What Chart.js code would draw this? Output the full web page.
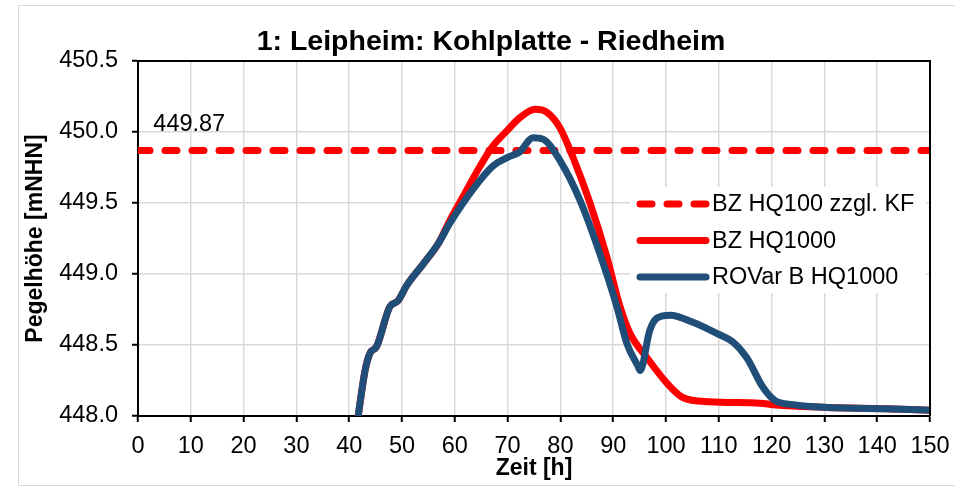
<!DOCTYPE html>
<html>
<head>
<meta charset="utf-8">
<script src="https://cdn.jsdelivr.net/npm/chart.js@4.4.1/dist/chart.umd.min.js"></script>
<style>
  html, body { margin: 0; padding: 0; background: #fff; }
  #wrap { position: relative; width: 955px; height: 488px; }
  #frame { position: absolute; left: 18px; top: 5px; width: 950px; height: 481px; border: 1px solid #d9d9d9; box-sizing: border-box; }
  canvas { position: absolute; left: 0; top: 0; }
</style>
</head>
<body>
<div id="wrap">
  <div id="frame"></div>
  <canvas id="chart" width="955" height="488"></canvas>
</div>
<script>
// BZ HQ1000 (red)
const hoursBZ = [41.7, 43.0, 43.9, 45.2, 47.7, 49.2, 50.9, 54.0, 56.8, 59.1, 61.5, 64.8, 67.2, 69.9, 72.3, 75.2, 77.4, 79.9, 82.4, 85.6, 88.8, 91.3, 93.2, 96.4, 100.2, 103.2, 108.3, 117.8, 120.3, 124.1, 130.5, 143, 150];
const levelBZ = [448.0, 448.32, 448.44, 448.49, 448.77, 448.81, 448.92, 449.07, 449.21, 449.38, 449.54, 449.76, 449.90, 450.01, 450.10, 450.16, 450.14, 450.03, 449.82, 449.50, 449.12, 448.77, 448.58, 448.41, 448.23, 448.13, 448.10, 448.09, 448.08, 448.07, 448.06, 448.05, 448.04];

// ROVar B HQ1000 (blue)
const hoursROVar = [41.7, 43.0, 43.9, 45.2, 47.7, 49.2, 50.9, 54.0, 56.8, 59.1, 63.5, 67.2, 69.9, 72.3, 74.8, 76.7, 79.9, 83.7, 87.5, 90.7, 92.6, 94.7, 95.1, 96.9, 98.3, 100.8, 105.1, 109.7, 112.7, 115.3, 118.4, 120.6, 124.1, 130.5, 143, 150];
const levelROVar = [448.0, 448.32, 448.44, 448.49, 448.77, 448.81, 448.92, 449.07, 449.21, 449.36, 449.60, 449.76, 449.82, 449.86, 449.96, 449.95, 449.80, 449.52, 449.14, 448.77, 448.51, 448.35, 448.32, 448.60, 448.69, 448.71, 448.66, 448.58, 448.52, 448.41, 448.20, 448.11, 448.08, 448.06, 448.05, 448.04];

// BZ HQ100 zzgl. KF (dashed reference)
const refHours = [0, 150];
const refLevel = 449.87;

const xTicks = [0, 10, 20, 30, 40, 50, 60, 70, 80, 90, 100, 110, 120, 130, 140, 150];
const yTicks = [448.0, 448.5, 449.0, 449.5, 450.0, 450.5];

const FONT = "'Liberation Sans', Arial, sans-serif";
const RED = '#ff0000';
const BLUE = '#1f4e79';

const toPoints = (xs, ys) => xs.map((x, i) => ({ x: x, y: ys[i] }));

const decorPlugin = {
    id: 'decor',
    afterDraw(chart) {
        const ctx = chart.ctx;
        const a = chart.chartArea;
        const xs = chart.scales.x, ys = chart.scales.y;
        ctx.save();

        // frame top/right
        ctx.strokeStyle = '#000';
        ctx.lineWidth = 2;
        ctx.beginPath();
        ctx.moveTo(a.left, a.top);
        ctx.lineTo(a.right, a.top);
        ctx.lineTo(a.right, a.bottom);
        ctx.stroke();

        // title
        ctx.fillStyle = '#000';
        ctx.font = 'bold 28.5px ' + FONT;
        ctx.textAlign = 'center';
        ctx.textBaseline = 'middle';
        ctx.fillText('1: Leipheim: Kohlplatte - Riedheim', 491, 42);

        // axis titles
        ctx.font = 'bold 23px ' + FONT;
        ctx.fillText('Zeit [h]', (a.left + a.right) / 2, 469);
        ctx.save();
        ctx.translate(36, (a.top + a.bottom) / 2);
        ctx.rotate(-Math.PI / 2);
        ctx.fillText('Pegelhöhe [mNHN]', 0, 0);
        ctx.restore();

        // reference label
        ctx.font = '23.5px ' + FONT;
        ctx.textAlign = 'left';
        ctx.fillText(refLevel.toFixed(2), xs.getPixelForValue(2.9), ys.getPixelForValue(450.05));

        // legend
        const lx = 630, ly = 187, lw = 296, lh = 106;
        ctx.fillStyle = '#fff';
        ctx.fillRect(lx, ly, lw, lh);
        const order = [2, 0, 1];
        order.forEach((di, row) => {
            const ds = chart.data.datasets[di];
            const y = 204 + row * 36.5;
            ctx.strokeStyle = ds.borderColor;
            ctx.lineWidth = ds.borderWidth;
            ctx.lineCap = 'round';
            ctx.setLineDash(ds.borderDash || []);
            ctx.beginPath();
            ctx.moveTo(640, y);
            ctx.lineTo(706, y);
            ctx.stroke();
            ctx.setLineDash([]);
            ctx.fillStyle = '#000';
            ctx.font = '23.5px ' + FONT;
            ctx.textBaseline = 'middle';
            ctx.fillText(ds.label, 712, y + 1);
        });
        ctx.restore();
    }
};

new Chart(document.getElementById('chart'), {
    type: 'line',
    data: {
        datasets: [
            {
                label: 'BZ HQ1000',
                data: toPoints(hoursBZ, levelBZ),
                borderColor: RED,
                borderWidth: 7,
                cubicInterpolationMode: 'monotone',
                pointRadius: 0,
                order: 2
            },
            {
                label: 'ROVar B HQ1000',
                data: toPoints(hoursROVar, levelROVar),
                borderColor: BLUE,
                borderWidth: 7,
                cubicInterpolationMode: 'monotone',
                pointRadius: 0,
                order: 1
            },
            {
                label: 'BZ HQ100 zzgl. KF',
                data: toPoints(refHours, [refLevel, refLevel]),
                borderColor: RED,
                borderWidth: 7,
                borderDash: [12, 15],
                borderCapStyle: 'round',
                pointRadius: 0,
                order: 3
            }
        ]
    },
    options: {
        responsive: false,
        animation: false,
        layout: { padding: { top: 61, right: 25, left: 0, bottom: 0 } },
        plugins: {
            legend: { display: false },
            title: { display: false },
            tooltip: { enabled: false }
        },
        scales: {
            x: {
                type: 'linear',
                min: 0,
                max: 150,
                afterBuildTicks: s => { s.ticks = xTicks.map(v => ({ value: v })); },
                afterFit: s => { s.height = 72; s.paddingLeft = 0; s.paddingRight = 0; },
                grid: { color: '#d9d9d9', lineWidth: 1.5, tickLength: 6, tickColor: '#000', tickWidth: 2 },
                border: { color: '#000', width: 2 },
                ticks: { color: '#000', font: { family: FONT, size: 23.5 }, padding: 10, maxRotation: 0 }
            },
            y: {
                min: 448.0,
                max: 450.5,
                afterBuildTicks: s => { s.ticks = yTicks.map(v => ({ value: v })); },
                afterFit: s => { s.width = 138; s.paddingTop = 0; s.paddingBottom = 0; },
                grid: { color: '#d9d9d9', lineWidth: 1.5, tickLength: 6, tickColor: '#000', tickWidth: 2 },
                border: { color: '#000', width: 2 },
                ticks: { color: '#000', font: { family: FONT, size: 23.5 }, padding: 14, callback: v => v.toFixed(1) }
            }
        }
    },
    plugins: [decorPlugin]
});
</script>
</body>
</html>
